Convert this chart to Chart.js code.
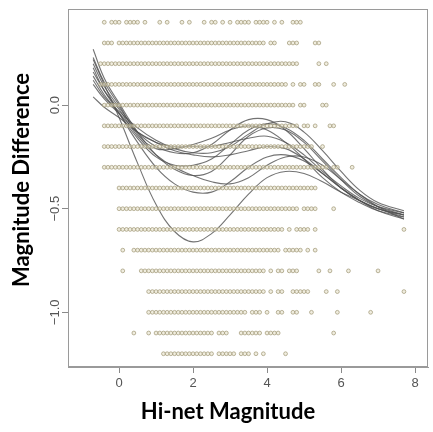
<!DOCTYPE html>
<html>
<head>
<meta charset="utf-8">
<script src="https://cdn.jsdelivr.net/npm/chart.js@4/dist/chart.umd.min.js"></script>
<style>
  html, body { margin: 0; padding: 0; background: #fff; }
  canvas { display: block; }
</style>
</head>
<body>
<canvas id="chart" width="433" height="432"></canvas>
<script>
// Observed magnitude differences come in 0.1 steps; each level lists the
// runs of Hi-net magnitudes (also in 0.1 steps) where events were recorded.
const rowLevels = [0.4, 0.3, 0.2, 0.1, 0.0, -0.1, -0.2, -0.3, -0.4, -0.5, -0.6, -0.7, -0.8, -0.9, -1.0, -1.1, -1.2];
const rowRuns = [
  [[-0.4,-0.4],[-0.2,-0.1],[0.0,0.0],[0.2,0.5],[0.7,0.7],[1.1,1.1],[1.3,1.3],[1.7,1.7],[1.9,1.9],[2.3,2.3],[2.5,2.6],[2.8,2.8],[3.0,3.0],[3.2,3.5],[3.7,4.0],[4.2,4.2],[4.4,4.4],[4.7,4.9]],
  [[-0.4,-0.2],[0.0,0.1],[0.2,3.9],[4.1,4.2],[4.6,4.8],[5.3,5.4]],
  [[-0.5,4.8],[5.4,5.4],[5.6,5.6]],
  [[-0.5,4.5],[4.7,4.7],[4.9,5.0],[5.3,5.4],[5.8,5.8],[6.1,6.1]],
  [[-0.4,4.7],[4.9,5.0],[5.5,5.6]],
  [[-0.4,4.8],[5.0,5.1],[5.3,5.3],[5.7,5.8]],
  [[-0.4,5.2],[5.5,5.5]],
  [[-0.4,5.6],[5.8,5.9],[6.3,6.3]],
  [[0.0,5.3]],
  [[0.0,4.8],[5.0,5.3],[5.8,5.8]],
  [[0.0,4.4],[4.6,4.6],[4.8,5.1],[5.3,5.3],[7.7,7.7]],
  [[0.1,0.1],[0.4,4.3],[4.5,4.9],[5.1,5.1],[5.3,5.3]],
  [[0.1,0.1],[0.6,3.9],[4.1,4.1],[4.3,4.4],[4.6,4.8],[5.4,5.4],[5.7,5.7],[6.2,6.2],[7.0,7.0]],
  [[0.8,3.9],[4.1,4.1],[4.3,4.4],[4.7,5.1],[5.6,5.6],[5.9,5.9],[7.7,7.7]],
  [[0.8,3.4],[3.6,3.8],[4.0,4.0],[4.3,4.4],[4.7,4.8],[5.2,5.2],[5.9,5.9],[6.8,6.8]],
  [[0.4,0.4],[0.8,0.8],[1.0,2.5],[2.7,2.9],[3.3,3.8],[4.0,4.3],[5.8,5.8]],
  [[1.2,2.5],[2.7,3.1],[3.3,3.5],[3.7,3.7],[3.9,3.9],[4.5,4.5]]
];

// Smoothed fits, sampled at these magnitudes
const fitX = [-0.7, -0.4, 0.0, 0.5, 1.0, 1.5, 2.0, 2.5, 3.0, 3.5, 4.0, 4.5, 5.0, 5.5, 6.0, 6.5, 7.0, 7.7];
const fitCurves = [
  [0.22, 0.10, -0.06, -0.28, -0.48, -0.61, -0.66, -0.62, -0.53, -0.43, -0.35, -0.32, -0.33, -0.37, -0.42, -0.46, -0.50, -0.53],
  [0.16, 0.07, -0.04, -0.18, -0.30, -0.38, -0.42, -0.42, -0.37, -0.30, -0.25, -0.24, -0.27, -0.33, -0.40, -0.46, -0.50, -0.54],
  [0.27, 0.13, 0.01, -0.13, -0.24, -0.31, -0.34, -0.32, -0.24, -0.15, -0.11, -0.12, -0.18, -0.27, -0.36, -0.44, -0.49, -0.53],
  [0.20, 0.09, -0.01, -0.13, -0.20, -0.23, -0.23, -0.19, -0.12, -0.07, -0.07, -0.12, -0.21, -0.31, -0.40, -0.46, -0.50, -0.53],
  [0.10, 0.03, -0.04, -0.13, -0.18, -0.20, -0.20, -0.20, -0.18, -0.16, -0.15, -0.18, -0.24, -0.32, -0.39, -0.45, -0.49, -0.52],
  [0.04, -0.01, -0.06, -0.13, -0.18, -0.22, -0.24, -0.25, -0.24, -0.22, -0.20, -0.21, -0.26, -0.33, -0.40, -0.46, -0.51, -0.55],
  [0.14, 0.05, -0.04, -0.16, -0.25, -0.29, -0.29, -0.26, -0.19, -0.12, -0.09, -0.11, -0.17, -0.26, -0.35, -0.43, -0.48, -0.52],
  [0.23, 0.11, 0.00, -0.14, -0.21, -0.21, -0.19, -0.16, -0.12, -0.10, -0.12, -0.18, -0.26, -0.35, -0.42, -0.47, -0.51, -0.54],
  [0.12, 0.04, -0.03, -0.11, -0.17, -0.21, -0.23, -0.23, -0.20, -0.14, -0.09, -0.08, -0.13, -0.22, -0.32, -0.41, -0.47, -0.51],
  [0.18, 0.07, -0.02, -0.15, -0.24, -0.30, -0.34, -0.37, -0.38, -0.35, -0.29, -0.25, -0.25, -0.29, -0.36, -0.43, -0.49, -0.55]
];

const xTicks = [0, 2, 4, 6, 8];
const yTicks = [-1.0, -0.5, 0.0];
const xTitle = 'Hi-net Magnitude';
const yTitle = 'Magnitude Difference';

// Expand each run of 0.1-step magnitudes into individual events
const eventPoints = [];
rowLevels.forEach((level, i) => {
  rowRuns[i].forEach(([a, b]) => {
    const n = Math.round((b - a) * 10);
    for (let k = 0; k <= n; k++) {
      eventPoints.push({ x: Math.round((a + k / 10) * 10) / 10, y: level });
    }
  });
});

const datasets = [{
  label: 'events',
  data: eventPoints,
  pointStyle: 'circle',
  pointRadius: 1.9,
  pointBorderWidth: 0.9,
  pointBorderColor: 'rgba(160,152,118,0.8)',
  pointBackgroundColor: 'rgba(228,222,196,0.55)',
  showLine: false
}];
fitCurves.forEach((ys, j) => {
  datasets.push({
    label: 'fit ' + (j + 1),
    data: fitX.map((x, i) => ({ x, y: ys[i] })),
    showLine: true,
    borderColor: 'rgba(80,80,80,0.8)',
    borderWidth: 1.1,
    pointRadius: 0,
    tension: 0.4,
    fill: false
  });
});

const fmt = v => (v < 0 ? '\u2212' : '') + Math.abs(v).toFixed(1);

// Frame, rotated y labels (R style) and axis titles
const decorations = {
  id: 'decorations',
  afterDraw(chart) {
    const { ctx, chartArea: a, scales } = chart;
    ctx.save();
    ctx.strokeStyle = '#9a9a9a';
    ctx.lineWidth = 1;
    ctx.strokeRect(Math.round(a.left) + 0.5, Math.round(a.top) + 0.5,
                   Math.round(a.right - a.left) - 1, Math.round(a.bottom - a.top) - 1);

    ctx.fillStyle = '#555';
    ctx.font = '13px "Liberation Sans", Arial, sans-serif';
    ctx.textAlign = 'center';
    ctx.textBaseline = 'middle';
    scales.y.ticks.forEach(t => {
      const y = scales.y.getPixelForValue(t.value);
      ctx.save();
      ctx.translate(55, y);
      ctx.rotate(-Math.PI / 2);
      ctx.fillText(fmt(t.value), 0, 0);
      ctx.restore();
    });

    ctx.fillStyle = '#000';
    ctx.font = 'bold 22px Lato, "Open Sans", sans-serif';
    ctx.fillText(xTitle, 228, 412);
    ctx.save();
    ctx.translate(22, 180);
    ctx.rotate(-Math.PI / 2);
    ctx.fillText(yTitle, 0, 0);
    ctx.restore();
    ctx.restore();
  }
};

new Chart(document.getElementById('chart'), {
  type: 'scatter',
  data: { datasets },
  options: {
    responsive: false,
    animation: false,
    events: [],
    layout: { padding: { top: 9, right: 5, left: 0, bottom: 0 } },
    plugins: { legend: { display: false }, tooltip: { enabled: false } },
    scales: {
      x: {
        type: 'linear',
        min: -1.38,
        max: 8.35,
        afterBuildTicks: s => { s.ticks = xTicks.map(v => ({ value: v })); },
        afterFit: s => { s.height = 65; },
        ticks: {
          autoSkip: false,
          maxRotation: 0,
          padding: 3,
          color: '#555',
          font: { family: '"Liberation Sans", Arial, sans-serif', size: 13 },
          callback: v => String(v)
        },
        grid: { drawOnChartArea: false, drawTicks: true, tickLength: 6, color: '#8a8a8a' },
        border: { display: true, color: '#9a9a9a' }
      },
      y: {
        type: 'linear',
        min: -1.264,
        max: 0.464,
        afterBuildTicks: s => { s.ticks = yTicks.map(v => ({ value: v })); },
        afterFit: s => { s.width = 68; },
        ticks: { display: false },
        grid: { drawOnChartArea: false, drawTicks: true, tickLength: 6, color: '#8a8a8a' },
        border: { display: true, color: '#9a9a9a' }
      }
    }
  },
  plugins: [decorations]
});
</script>
</body>
</html>
